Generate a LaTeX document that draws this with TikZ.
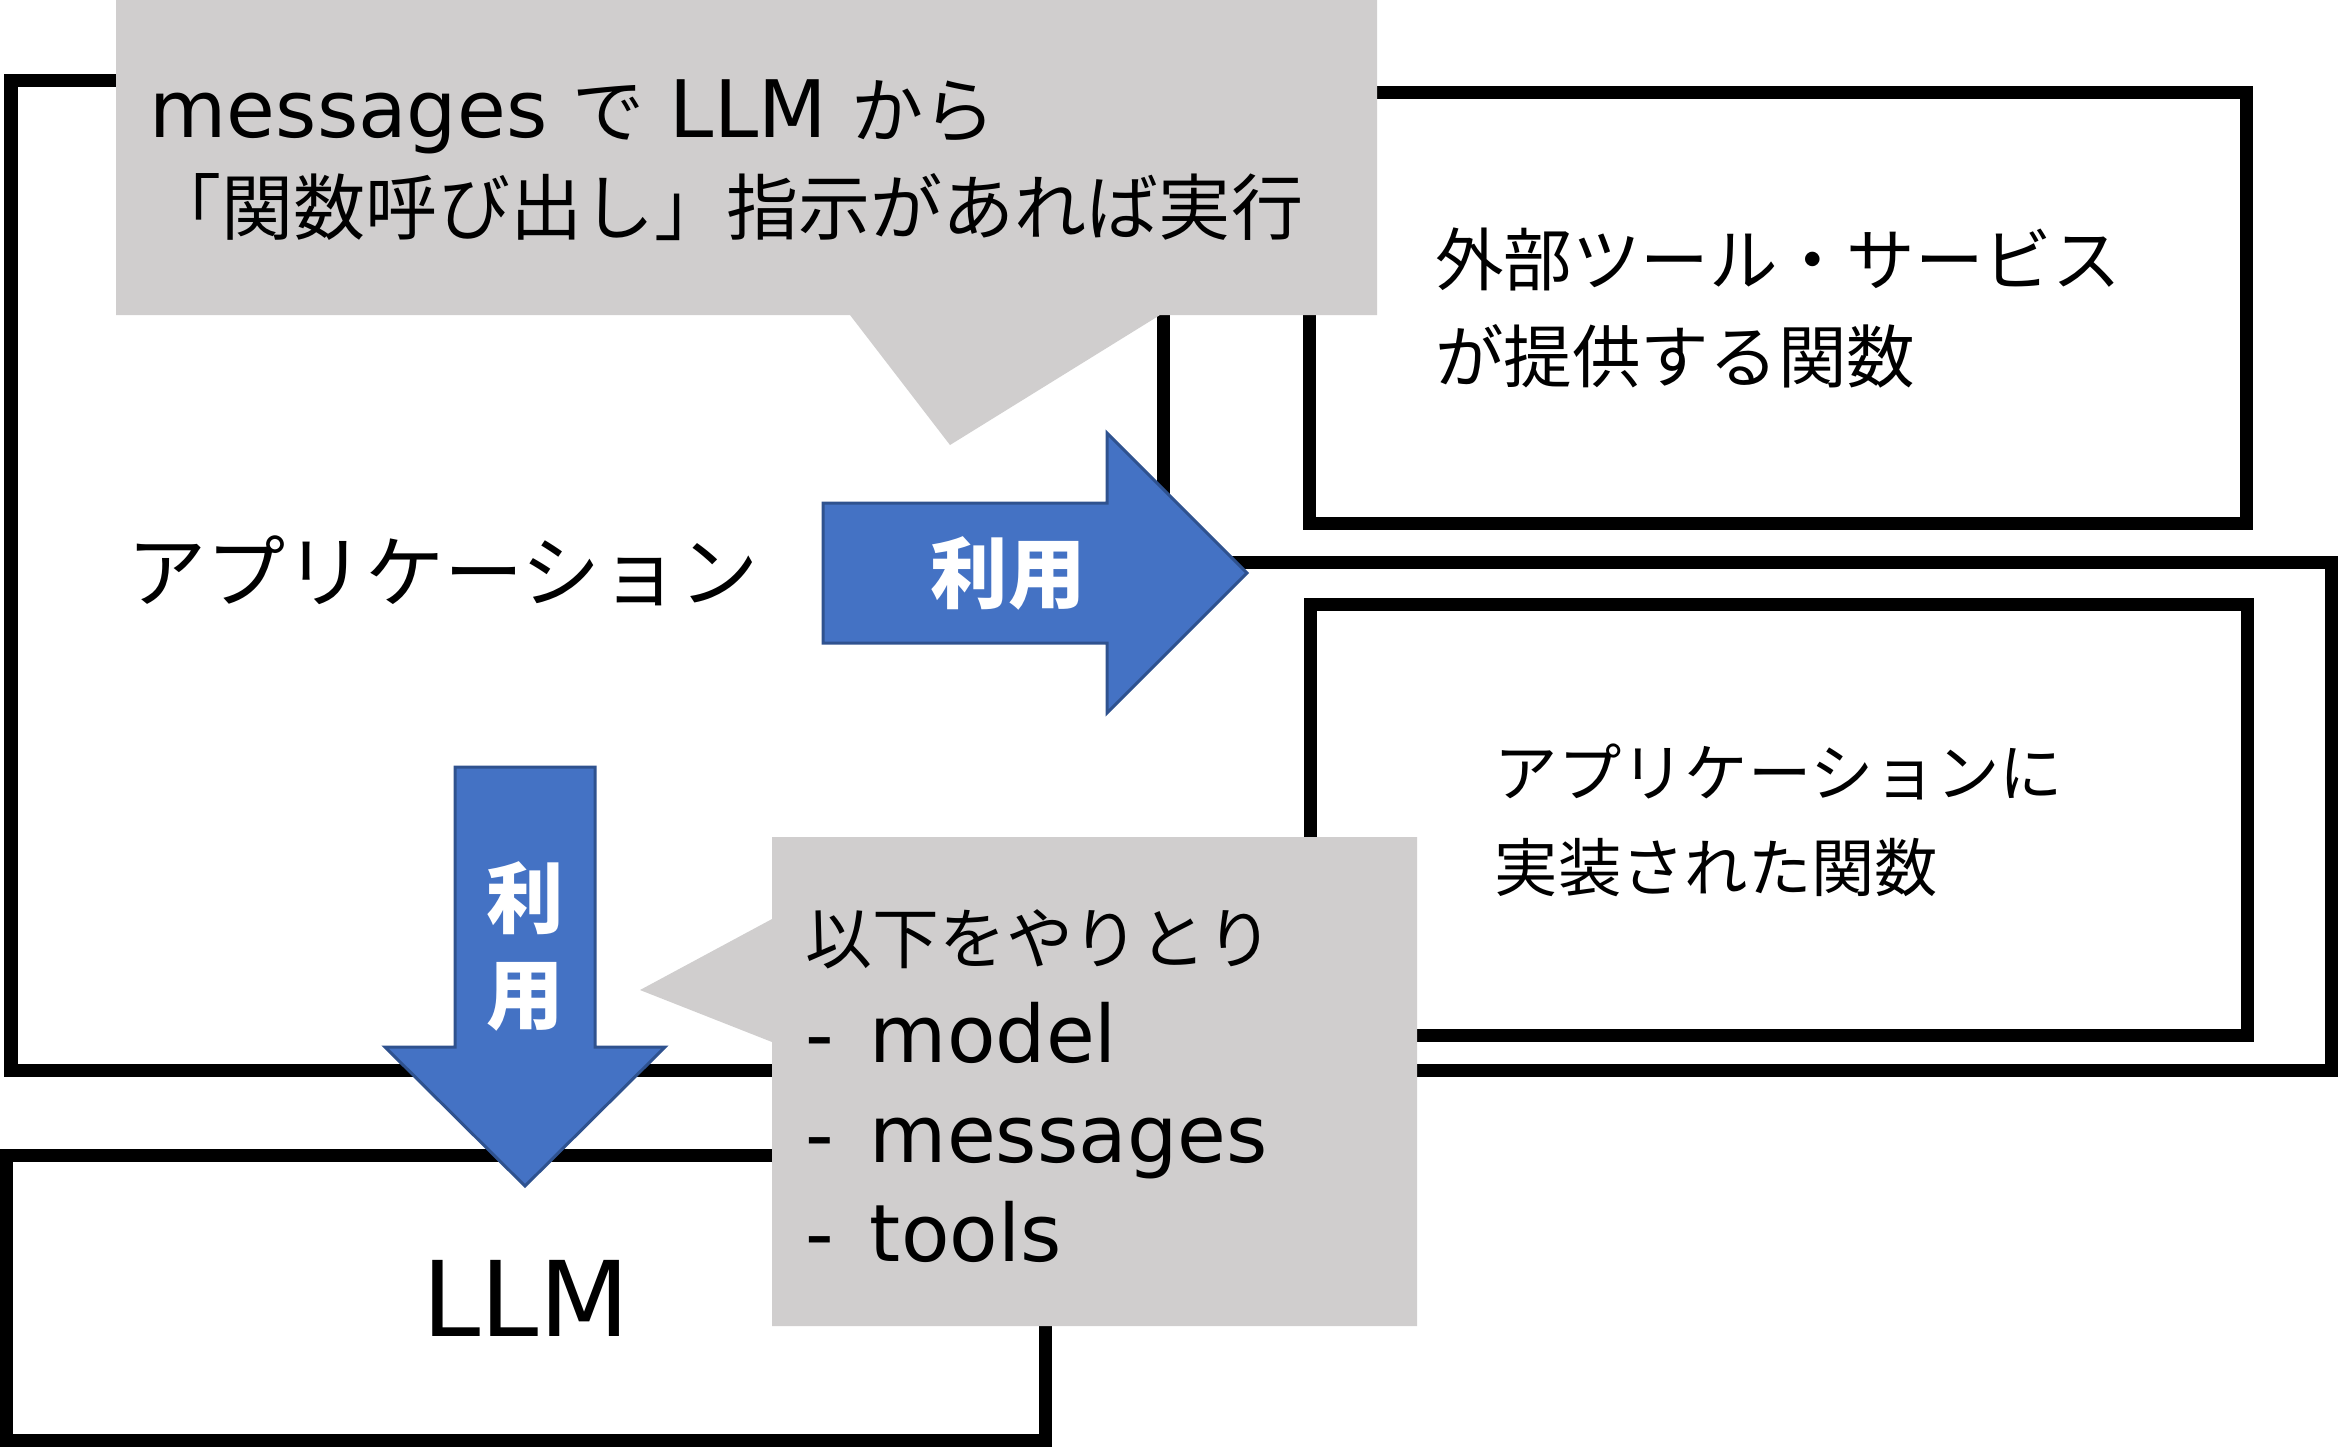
\documentclass[tikz,border=0pt]{standalone}
\usepackage{fontspec}
\setmainfont{Noto Sans CJK JP}
\newfontfamily\lat{DejaVu Sans}[Scale=1.1]
\newcommand{\en}[1]{{\lat #1}}
\newcommand{\listentry}[1]{{\fontsize{20.5}{28.3}\selectfont\en{-\hspace{0.45em}#1}}}
\definecolor{callgray}{HTML}{D0CECE}
\definecolor{arrowblue}{HTML}{4472C4}
\definecolor{arrowedge}{HTML}{2F528F}

\begin{document}
\begin{tikzpicture}[x=0.01cm,y=-0.01cm]
                        \tikzstyle{box}=[draw=black,line width=3.7pt]
                        \tikzstyle{framebox}=[box,fill=white,inner sep=0pt,align=left]
                        \tikzstyle{callout}=[fill=callgray]
                        \tikzstyle{bigarrow}=[fill=arrowblue,draw=arrowedge,line width=0.85pt]
                        \tikzstyle{txt}=[inner sep=0pt,anchor=west,align=left]
                        \tikzstyle{uselabel}=[inner sep=0pt,text=white,align=center,font=\bfseries\fontsize{22}{27.3}\selectfont]
                        \useasboundingbox (0,0) rectangle (2339,1447);
                        % application frame
                        \draw[box] (11,80) -- (1163,80) -- (1163,562) -- (2331,562)
                            -- (2331,1070) -- (11,1070) -- cycle;
                        \node[txt,font=\fontsize{22.5}{27}\selectfont] (app) at (127,571) {アプリケーション};
                        \node[framebox,minimum width=9.36cm,minimum height=4.31cm,
                            font=\fontsize{19.5}{27.6}\selectfont] (ext) at (1778,308) {外部ツール・サービス\\が提供する関数};
                        \node[framebox,minimum width=9.37cm,minimum height=4.30cm,
                            font=\fontsize{18}{27}\selectfont] (impl) at (1779,820) {アプリケーションに\\実装された関数};
                        \node[framebox,minimum width=10.39cm,minimum height=2.84cm,
                            font=\fontsize{27}{30}\selectfont] (llm) at (526,1298) {\en{LLM}};
                        % callout over the frame
                        \fill[callout] (116,0) -- (1377,0) -- (1377,315) -- (1160,315)
                            -- (950,445) -- (850,315) -- (116,315) -- cycle;
                        \node[txt,font=\fontsize{20.5}{27.6}\selectfont] (say1) at (149,160)
                            {\en{messages\ }で\en{\ LLM\ }から\\「関数呼び出し」指示があれば実行};
                        % block arrows
                        \draw[bigarrow] (823,503) -- (1107,503) -- (1107,433) -- (1247,573)
                            -- (1107,713) -- (1107,643) -- (823,643) -- cycle;
                        \node[uselabel] (use1) at (1008,573) {利用};
                        \draw[bigarrow] (455,767) -- (595,767) -- (595,1047) -- (665,1047)
                            -- (525,1186) -- (385,1047) -- (455,1047) -- cycle;
                        \node[uselabel] (use2) at (525,946) {利\\用};
                        \fill[callout] (772,837) -- (1417,837) -- (1417,1326) -- (772,1326)
                            -- (772,1042) -- (640,990) -- (772,919) -- cycle;
                        \node[txt,font=\fontsize{19}{28.3}\selectfont] (say2) at (805,1086)
                            {以下をやりとり\\\listentry{model}\\\listentry{messages}\\\listentry{tools}};
                    \end{tikzpicture}
\end{document}
